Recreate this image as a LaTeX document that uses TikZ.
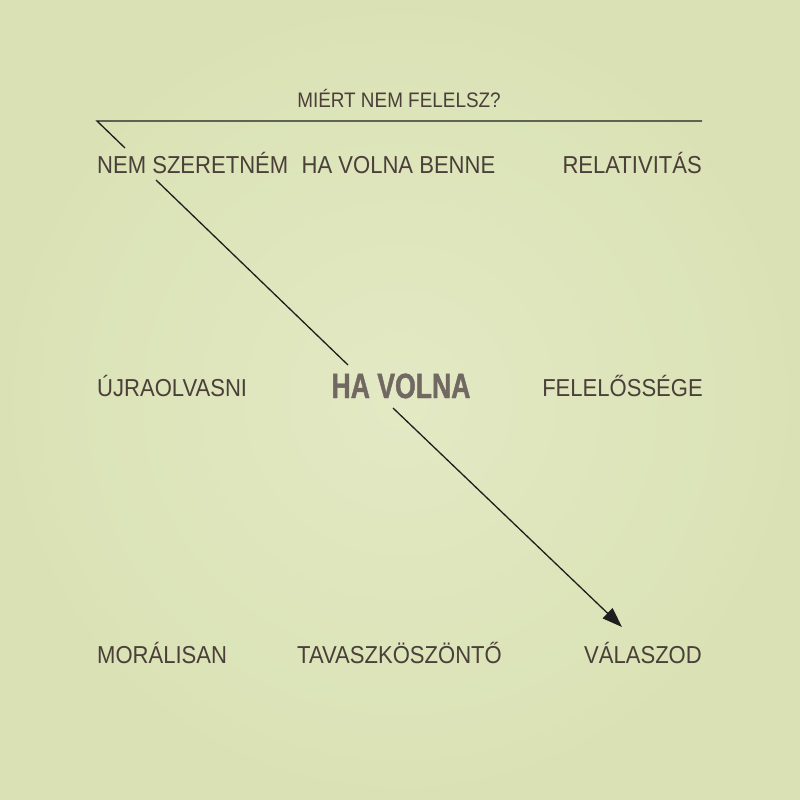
\documentclass[tikz,border=0pt]{standalone}
\usepackage{fontspec}
\setmainfont{Liberation Sans}[FakeStretch=0.9]
\newfontfamily\boldnarrow{Liberation Sans}[FakeStretch=0.76,FakeBold=1.2]
\usetikzlibrary{arrows.meta}
\definecolor{bgin}{HTML}{E3E9C4}
\definecolor{bgout}{HTML}{DAE2B5}
\definecolor{txt}{HTML}{4A3F39}
\definecolor{hv}{HTML}{716862}
\definecolor{ln}{HTML}{1E1E1E}
\tikzset{
  word/.style={inner sep=0pt, text=txt, font=\fontsize{24.5}{26}\selectfont},
  title/.style={inner sep=0pt, text=txt, font=\fontsize{21}{23}\selectfont},
  big/.style={inner sep=0pt, text=hv, font=\boldnarrow\bfseries\fontsize{35}{37}\selectfont},
  link/.style={draw=ln, line width=1.3pt},
}
\begin{document}
\begin{tikzpicture}[x=1pt,y=-1pt]
\useasboundingbox (0,0) rectangle (800,800);
\shade[inner color=bgin, outer color=bgout] (0,0) rectangle (800,800);
% texts
\node[title, anchor=base] (q) at (399,107) {MIÉRT NEM FELELSZ?};
\node[word, anchor=base west] (nem) at (97,173) {NEM SZERETNÉM};
\node[word, anchor=base] (hvb) at (398.5,173) {HA VOLNA BENNE};
\node[word, anchor=base east] (rel) at (702,173) {RELATIVITÁS};
\node[word, anchor=base west] (ujra) at (97,396) {ÚJRAOLVASNI};
\node[big, anchor=base] (hv) at (401,398) {HA VOLNA};
\node[word, anchor=base east] (fel) at (703,396) {FELELŐSSÉGE};
\node[word, anchor=base west] (mor) at (97,663) {MORÁLISAN};
\node[word, anchor=base] (tav) at (399.5,663) {TAVASZKÖSZÖNTŐ};
\node[word, anchor=base east] (val) at (702,663) {VÁLASZOD};
% connector points
\coordinate (tl) at (97,121);
\coordinate (tr) at (702,121);
\coordinate (td) at (125,148);
\coordinate (a1) at (156,180);
\coordinate (a2) at (348,365);
\coordinate (b1) at (393,408);
\coordinate (b2) at (622,627);
\draw[link] (tr) -- (tl) -- (td);
\draw[link] (a1) -- (a2);
\draw[link, -{Triangle[length=20pt,width=14pt]}] (b1) -- (b2);
\end{tikzpicture}
\end{document}
